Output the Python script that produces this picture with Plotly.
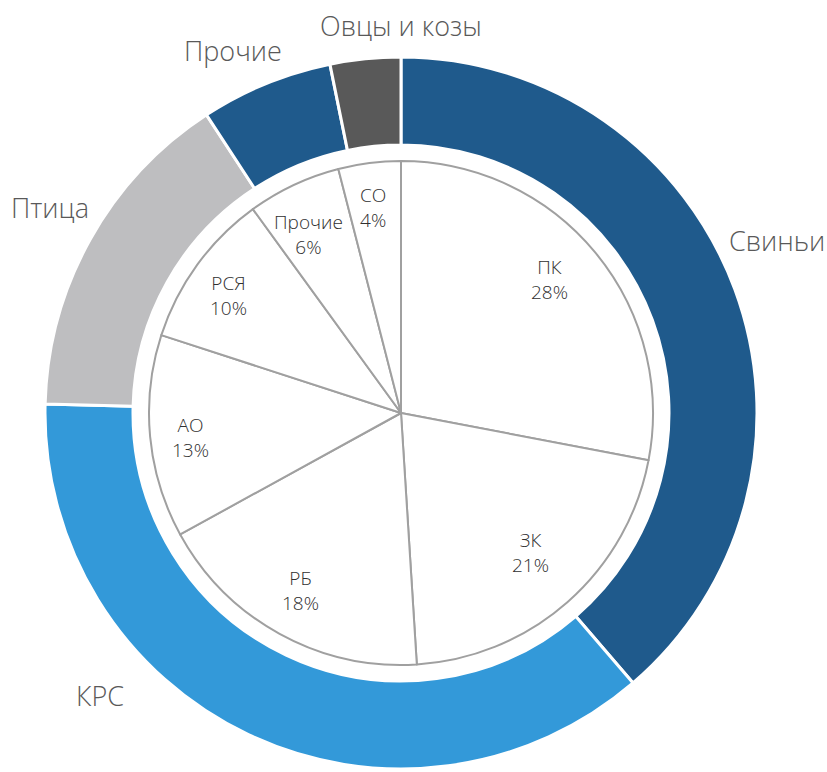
import plotly.graph_objects as go

# внешнее кольцо — виды скота
outer_labels = ["Свиньи", "КРС", "Птица", "Прочие", "Овцы и козы"]
outer_values = [38.7, 36.7, 15.4, 6.0, 3.2]
outer_colors = ["#1f5a8c", "#3399d9", "#bebec0", "#1f5a8c", "#595959"]

# внутренний круг — категории хозяйств
inner_labels = ["ПК", "ЗК", "РБ", "АО", "РСЯ", "Прочие", "СО"]
inner_values = [28, 21, 18, 13, 10, 6, 4]

W, H = 827, 772
cx, cy = 401, 413
r_out, r_hole, r_in = 356, 268, 252


def dom(r):
    return dict(x=[(cx - r) / W, (cx + r) / W],
                y=[(H - cy - r) / H, (H - cy + r) / H])


fig = go.Figure()
fig.add_trace(go.Pie(
    labels=outer_labels, values=outer_values, hole=r_hole / r_out,
    sort=False, direction="clockwise", rotation=0,
    marker=dict(colors=outer_colors, line=dict(color="white", width=3)),
    textinfo="none", hoverinfo="label+value", domain=dom(r_out),
))
fig.add_trace(go.Pie(
    labels=inner_labels, values=inner_values,
    sort=False, direction="clockwise", rotation=0,
    marker=dict(colors=["white"] * len(inner_labels),
                line=dict(color="#a0a0a0", width=2)),
    textinfo="none", hoverinfo="label+value", domain=dom(r_in),
))

# подписи внешнего кольца (пиксели центра текста)
outer_pos = [(777, 240), (100, 695), (50, 207), (233, 50), (401, 25)]
for lab, (px, py) in zip(outer_labels, outer_pos):
    fig.add_annotation(x=px / W, y=1 - py / H, xref="paper", yref="paper",
                       xanchor="center", yanchor="middle",
                       text=lab, showarrow=False,
                       font=dict(size=27, color="#595959", family="Open Sans",
                                 weight=300))

inner_pos = [(549, 280), (530, 552), (300, 590), (190, 437),
             (228, 295), (308, 235), (373, 207)]
for lab, v, (px, py) in zip(inner_labels, inner_values, inner_pos):
    fig.add_annotation(x=px / W, y=1 - py / H, xref="paper", yref="paper",
                       xanchor="center", yanchor="middle",
                       text=f"{lab}<br>{v}%", showarrow=False,
                       font=dict(size=19, color="#303030", family="Open Sans",
                                 weight=300))

fig.update_layout(
    width=W, height=H, margin=dict(l=0, r=0, t=0, b=0),
    showlegend=False, paper_bgcolor="white",
)
fig.write_html("out.html", config={"displayModeBar": False},
               post_script="document.body.style.margin='0';")
